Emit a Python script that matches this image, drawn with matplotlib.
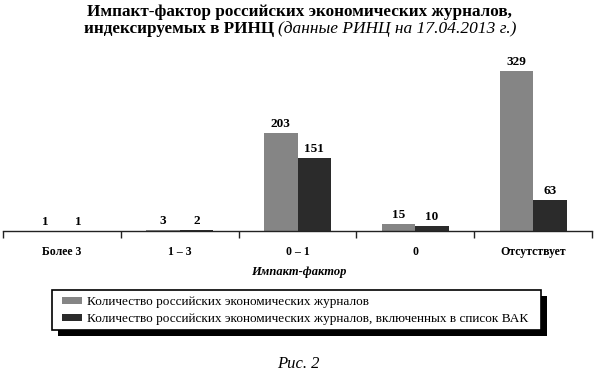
import matplotlib
matplotlib.use('Agg')
import matplotlib.pyplot as plt
from matplotlib.patches import Rectangle
import numpy as np

categories = ['Более 3', '1 – 3', '0 – 1', '0', 'Отсутствует']
all_journals = [1, 3, 203, 15, 329]
vak_journals = [1, 2, 151, 10, 63]
series_labels = ['Количество российских экономических журналов',
                 'Количество российских экономических журналов, включенных в список ВАК']
title_line1 = 'Импакт-фактор российских экономических журналов,'
title_bold2 = 'индексируемых в РИНЦ '
title_italic2 = '(данные РИНЦ на 17.04.2013 г.)'
xlabel_text = 'Импакт-фактор'
caption = 'Рис. 2'

plt.rcParams['font.family'] = ['Liberation Serif', 'DejaVu Serif']

W, H = 595, 373
fig = plt.figure(figsize=(W / 100, H / 100), dpi=100)
fig.patch.set_facecolor('white')


def fx(px):
    return px / W


def fy(py):
    return 1 - py / H


gray = '#858585'
dark = '#2b2b2b'

ax_left, ax_right = 3, 592
ax_bottom_px = 231
ymax = 396
px_per_unit = 0.485
ax_top_px = ax_bottom_px - ymax * px_per_unit
ax = fig.add_axes([fx(ax_left), fy(ax_bottom_px),
                   (ax_right - ax_left) / W, (ax_bottom_px - ax_top_px) / H])

x = np.arange(len(categories))
bw = 0.284
b1 = ax.bar(x - bw / 2, all_journals, width=bw, color=gray, edgecolor='none')
b2 = ax.bar(x + bw / 2, vak_journals, width=bw, color=dark, edgecolor='none')

for bars, vals in ((b1, all_journals), (b2, vak_journals)):
    for r, v in zip(bars, vals):
        ax.annotate(str(v), (r.get_x() + r.get_width() / 2, r.get_height()),
                    xytext=(0, 6), textcoords='offset pixels',
                    ha='center', va='baseline', fontsize=9.5, fontweight='bold')

ax.set_xlim(-0.5, len(categories) - 0.5)
ax.set_ylim(0, ymax)
for s in ('top', 'right', 'left'):
    ax.spines[s].set_visible(False)
ax.spines['bottom'].set_linewidth(1.0)
ax.spines['bottom'].set_color('#222222')
ax.set_yticks([])
ax.set_xticks(x)
ax.set_xticklabels(categories, fontsize=8.5, fontweight='bold')
ax.set_xticks(np.arange(-0.5, len(categories), 1), minor=True)
ax.tick_params(axis='x', which='major', length=0, pad=10.5)
ax.tick_params(axis='x', which='minor', length=5, width=1.0, direction='out', color='#222222')
ax.patch.set_alpha(0)

fig.text(fx(299), fy(275), xlabel_text, ha='center', va='baseline',
         fontsize=9, fontstyle='italic', fontweight='bold')

# Title
fig.text(fx(299), fy(16), title_line1, ha='center', va='baseline',
         fontsize=12.3, fontweight='bold')
renderer = fig.canvas.get_renderer()
t_b = fig.text(0, fy(33), title_bold2, ha='left', va='baseline',
               fontsize=12.3, fontweight='bold')
t_i = fig.text(0, fy(33), title_italic2, ha='left', va='baseline',
               fontsize=12.5, fontstyle='italic')
wb = t_b.get_window_extent(renderer).width
wi = t_i.get_window_extent(renderer).width
start = 300 - (wb + wi) / 2
t_b.set_x(fx(start))
t_i.set_x(fx(start + wb))

# Legend frame with shadow
box_l, box_t, box_r, box_b = 52, 290, 541, 330
fig.patches.append(Rectangle((fx(box_l + 6), fy(box_b + 6)), (box_r - box_l) / W,
                             (box_b - box_t) / H, transform=fig.transFigure,
                             facecolor='black', edgecolor='none', zorder=1))
fig.patches.append(Rectangle((fx(box_l), fy(box_b)), (box_r - box_l) / W,
                             (box_b - box_t) / H, transform=fig.transFigure,
                             facecolor='white', edgecolor='black', linewidth=1.2, zorder=2))

leg = fig.legend([b1, b2], series_labels, loc='upper left',
                 bbox_to_anchor=(fx(62), fy(296)), frameon=False,
                 fontsize=9.5, handlelength=1.52, handleheight=0.4,
                 handletextpad=0.38, labelspacing=0.4, borderpad=0, borderaxespad=0)
leg.set_zorder(3)

fig.text(fx(298), fy(368), caption, ha='center', va='baseline',
         fontsize=12, fontstyle='italic')

fig.savefig('out.png', dpi=100)
